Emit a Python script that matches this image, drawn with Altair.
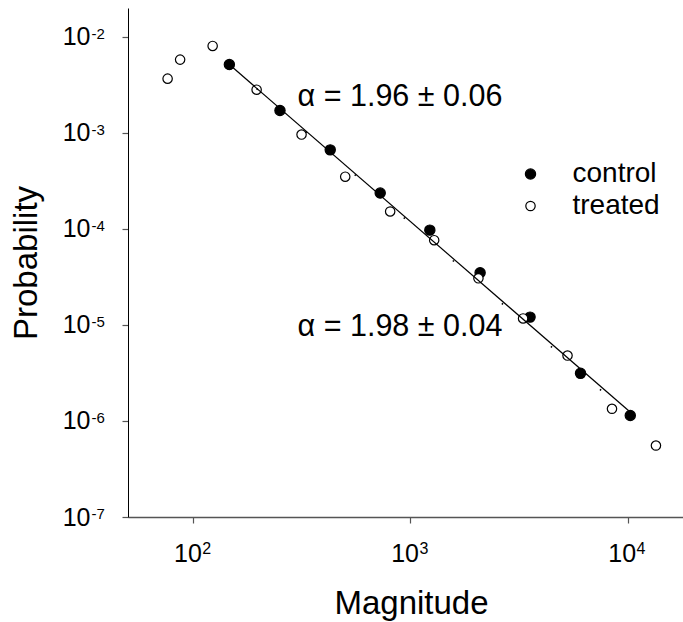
import altair as alt
import pandas as pd

# ---- data ----
control_x = [146.5, 250.6, 427, 725.5, 1228, 2093, 3555, 6070, 10290]
control_y = [5.15e-3, 1.714e-3, 6.66e-4, 2.366e-4, 9.72e-5, 3.50e-5, 1.207e-5, 3.135e-6, 1.141e-6]

treated_x = [76.1, 86.9, 122.7, 195.6, 315, 500.6, 806.3, 1286, 2056, 3301, 5289, 8476, 13510]
treated_y = [3.674e-3, 5.80e-3, 8.05e-3, 2.82e-3, 9.62e-4, 3.50e-4, 1.52e-4, 7.64e-5,
             3.06e-5, 1.169e-5, 4.80e-6, 1.34e-6, 5.55e-7]

fit_control_x = [146.5, 10120]
fit_control_y = [5.15e-3, 1.278e-6]
fit_treated_x = [195.6, 12500]
fit_treated_y = [2.89e-3, 7.68e-7]

x_ticks = [100, 1000, 10000]
x_exps = ["2", "3", "4"]
y_ticks = [1e-7, 1e-6, 1e-5, 1e-4, 1e-3, 1e-2]
y_exps = ["-7", "-6", "-5", "-4", "-3", "-2"]

ann_text = ["α = 1.96 ± 0.06", "α = 1.98 ± 0.04"]
ann_x = [302, 302]
ann_y = [1.89e-3, 7.64e-6]

groups = ["control", "treated"]

FONT = "Liberation Sans, Arial, sans-serif"

pts = pd.DataFrame(
    {"x": control_x + treated_x,
     "y": control_y + treated_y,
     "group": ["control"] * len(control_x) + ["treated"] * len(treated_x)}
)
fit_c = pd.DataFrame({"x": fit_control_x, "y": fit_control_y})
fit_t = pd.DataFrame({"x": fit_treated_x, "y": fit_treated_y})
xt = pd.DataFrame({"x": x_ticks, "e": x_exps})
yt = pd.DataFrame({"y": y_ticks, "e": y_exps})
ann = pd.DataFrame({"x": ann_x, "y": ann_y, "t": ann_text})

W, H = 555, 509
xs = alt.Scale(type="log", domain=[50, 18000], nice=False)
ys = alt.Scale(type="log", domain=[1e-7, 0.02], nice=False)

x_axis = alt.Axis(
    values=x_ticks, labelExpr="'10'", grid=False,
    tickSize=6, tickColor="#555555", tickWidth=1.2,
    domainColor="#555555", domainWidth=1.5,
    labelFont=FONT, labelFontSize=25, labelColor="black",
    labelAlign="right", labelOffset=8, labelBaseline="alphabetic", labelPadding=38.7,
    labelFlush=False, labelOverlap=False,
    title="Magnitude", titleFont=FONT, titleFontSize=33, titleFontWeight="normal",
    titleColor="black", titleX=283, titleY=96.3, titleAlign="center",
    titleBaseline="alphabetic",
)
y_axis = alt.Axis(
    values=y_ticks, labelExpr="'10'", grid=False,
    tickSize=6, tickColor="#555555", tickWidth=1.2,
    domainColor="black", domainWidth=1,
    labelFont=FONT, labelFontSize=25, labelColor="black",
    labelAlign="right", labelBaseline="middle", labelPadding=32,
    labelFlush=False, labelOverlap=False,
    title="Probability", titleFont=FONT, titleFontSize=33, titleFontWeight="normal",
    titleColor="black", titleX=-91.3, titleY=254.5, titleAlign="center",
    titleBaseline="alphabetic", titleAngle=270,
)

X = alt.X("x:Q", scale=xs, axis=x_axis, title="Magnitude")
Y = alt.Y("y:Q", scale=ys, axis=y_axis, title="Probability")

leg = alt.Legend(
    orient="none", legendX=388.5, legendY=152, title=None, padding=0,
    labelFont=FONT, labelFontSize=28, labelColor="black", labelOffset=28,
    rowPadding=4, symbolStrokeColor="black", symbolStrokeWidth=1.2,
    symbolType="circle",
)

points = alt.Chart(pts).mark_point(
    filled=True, shape="circle", stroke="black", strokeWidth=1.2, opacity=1
).encode(
    x=X, y=Y,
    color=alt.Color("group:N", scale=alt.Scale(domain=groups, range=["black", "white"]), legend=leg),
    size=alt.Size("group:N", scale=alt.Scale(domain=groups, range=[105, 88]), legend=leg),
)

line_c = alt.Chart(fit_c).mark_line(color="black", strokeWidth=1.2).encode(x=X, y=Y)
line_t = alt.Chart(fit_t).mark_line(
    color="black", strokeWidth=1.6, strokeDash=[1.5, 63.7], strokeCap="butt"
).encode(x=X, y=Y)

annot = alt.Chart(ann).mark_text(
    align="left", baseline="alphabetic", font=FONT, fontSize=30.5, color="black"
).encode(x=X, y=Y, text="t:N")

x_sup = alt.Chart(xt).mark_text(
    align="left", baseline="alphabetic", font=FONT, fontSize=16, color="black", dx=9
).encode(x=X, y=alt.value(H + 36.5), text="e:N")

y_sup = alt.Chart(yt).mark_text(
    align="left", baseline="alphabetic", font=FONT, fontSize=15, color="black", dy=2
).encode(y=Y, x=alt.value(-36.5), text="e:N")

chart = alt.layer(points, line_c, line_t, annot, x_sup, y_sup).properties(
    width=W, height=H,
    padding={"left": 128, "top": 8, "right": 0, "bottom": 105},
    autosize=alt.AutoSizeParams(type="none"),
    background="white",
).configure_view(stroke=None)

chart.save("out.html", embed_options={"renderer": "svg", "actions": False})
